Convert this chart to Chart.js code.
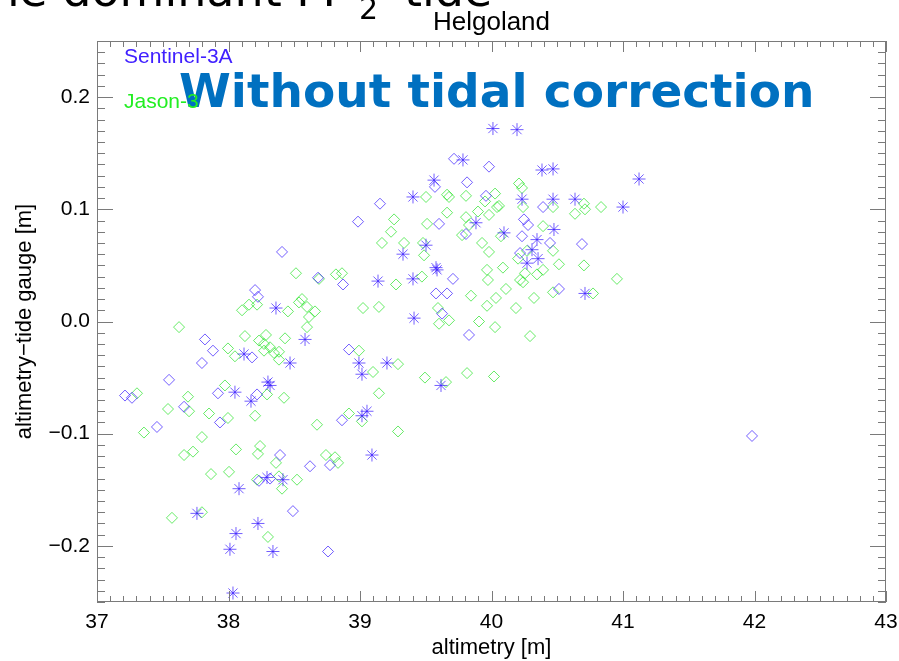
<!DOCTYPE html>
<html lang="en">
<head>
    <meta charset="UTF-8">
    <title>Helgoland</title>
    <script src="https://cdn.jsdelivr.net/npm/chart.js"></script>
    <style>
        body { margin: 0; background: #fff; }
        canvas { display: block; }
    </style>
</head>
<body>
    <canvas id="chart" width="899" height="661"></canvas>
    <script>
        // tick labels
        var xTicks = [37, 38, 39, 40, 41, 42, 43];
        var yTicks = [-0.2, -0.1, 0.0, 0.1, 0.2];

        // Sentinel-3A, diamonds
        var s3aX = [38.407, 38.681, 38.871, 38.202, 38.224, 37.821, 37.882, 37.798, 38.179, 38.916,
                    37.548, 37.920, 38.217, 37.213, 37.266, 37.662, 37.935, 38.863, 37.456, 38.392,
                    38.620, 38.772, 38.232, 38.316, 38.490, 38.757, 39.715, 39.981, 39.570, 39.814,
                    39.958, 39.152, 38.985, 39.601, 39.806, 40.392, 40.247, 40.278, 40.232, 40.445,
                    40.688, 40.217, 39.707, 39.578, 39.662, 39.624, 39.829, 40.513, 41.981];
        var s3aY = [0.062, 0.039, 0.033, 0.028, 0.022, -0.016, -0.026, -0.037, -0.032, -0.025,
                    -0.052, -0.064, -0.065, -0.066, -0.068, -0.076, -0.090, -0.088, -0.094, -0.119,
                    -0.129, -0.128, -0.142, -0.140, -0.169, -0.205, 0.145, 0.138, 0.120, 0.124,
                    0.112, 0.105, 0.089, 0.087, 0.078, 0.102, 0.091, 0.086, 0.076, 0.070,
                    0.069, 0.061, 0.038, 0.025, 0.025, 0.007, -0.012, 0.029, -0.102];

        // Sentinel-3A, stars
        var s3aStarX = [38.361, 38.582, 38.118, 38.468, 38.300, 38.316, 38.049, 38.171, 38.293, 38.414,
                        38.080, 37.760, 38.224, 38.057, 38.011, 38.338, 38.034, 40.011, 40.194, 39.783,
                        39.563, 39.403, 39.882, 39.327, 39.502, 39.578, 40.384, 40.468, 41.122, 40.232,
                        40.468, 40.635, 41.000, 40.475, 40.095, 40.346, 40.308, 40.354, 40.270, 39.137,
                        39.403, 39.586, 39.411, 38.992, 39.015, 39.205, 39.616, 39.053, 39.015, 39.091,
                        40.711];
        var s3aStarY = [0.012, -0.016, -0.029, -0.037, -0.054, -0.057, -0.063, -0.071, -0.139, -0.141,
                        -0.149, -0.171, -0.180, -0.189, -0.203, -0.205, -0.242, 0.172, 0.171, 0.144,
                        0.126, 0.111, 0.088, 0.060, 0.068, 0.048, 0.135, 0.136, 0.127, 0.109,
                        0.109, 0.109, 0.102, 0.082, 0.079, 0.073, 0.064, 0.056, 0.052, 0.036,
                        0.038, 0.046, 0.003, -0.037, -0.047, -0.037, -0.057, -0.080, -0.084, -0.119,
                        0.025];

        // Jason-3, diamonds
        var j3X = [38.513, 38.817, 38.863, 38.688, 38.103, 38.156, 38.217, 38.452, 38.536, 38.559,
                   38.597, 38.658, 38.612, 38.597, 37.624, 38.125, 38.285, 38.232, 38.270, 38.316,
                   38.270, 38.346, 38.384, 38.384, 38.430, 37.996, 38.049, 37.973, 38.293, 38.422,
                   37.304, 37.692, 37.540, 37.700, 37.852, 37.996, 38.202, 38.673, 38.916, 37.357,
                   37.798, 37.662, 37.730, 38.057, 38.240, 38.224, 38.361, 38.741, 38.810, 38.833,
                   37.867, 38.004, 38.217, 38.384, 38.407, 38.521, 37.570, 37.798, 38.300, 39.502,
                   39.662, 39.677, 39.806, 40.027, 39.951, 39.259, 39.236, 39.510, 39.662, 39.806,
                   39.897, 39.829, 39.981, 40.042, 39.776, 39.167, 39.335, 39.479, 39.487, 39.928,
                   39.981, 39.966, 40.209, 40.232, 40.240, 40.057, 40.468, 40.703, 40.711, 40.635,
                   40.833, 40.392, 40.072, 40.468, 40.270, 40.202, 40.513, 40.703, 40.087, 39.274,
                   39.471, 39.973, 39.844, 40.034, 39.966, 39.023, 39.144, 39.593, 39.601, 39.677,
                   39.905, 40.027, 38.992, 39.289, 39.099, 39.494, 39.654, 39.814, 40.019, 39.144,
                   39.015, 39.289, 40.217, 40.255, 40.346, 40.392, 40.240, 40.954, 40.110, 40.323,
                   40.468, 40.772, 40.186, 40.293];
        var j3Y = [0.043, 0.042, 0.043, 0.038, 0.010, 0.015, 0.015, 0.009, 0.017, 0.020,
                   0.013, 0.009, 0.004, -0.005, -0.005, -0.013, -0.012, -0.017, -0.020, -0.023,
                   -0.026, -0.028, -0.027, -0.034, -0.015, -0.024, -0.031, -0.057, -0.065, -0.068,
                   -0.064, -0.067, -0.078, -0.080, -0.082, -0.086, -0.084, -0.092, -0.082, -0.099,
                   -0.103, -0.119, -0.116, -0.114, -0.111, -0.118, -0.126, -0.119, -0.121, -0.126,
                   -0.136, -0.134, -0.141, -0.138, -0.149, -0.141, -0.175, -0.170, -0.192, 0.111,
                   0.113, 0.111, 0.112, 0.114, 0.107, 0.091, 0.080, 0.087, 0.097, 0.093,
                   0.098, 0.086, 0.095, 0.102, 0.077, 0.070, 0.070, 0.070, 0.059, 0.070,
                   0.062, 0.046, 0.123, 0.119, 0.102, 0.103, 0.102, 0.105, 0.100, 0.096,
                   0.102, 0.085, 0.076, 0.063, 0.063, 0.056, 0.051, 0.050, 0.048, 0.033,
                   0.040, 0.037, 0.023, 0.021, 0.014, 0.012, 0.013, 0.012, -0.002, 0.001,
                   0.000, -0.005, -0.026, -0.038, -0.045, -0.050, -0.054, -0.046, -0.049, -0.064,
                   -0.089, -0.098, 0.037, 0.043, 0.042, 0.046, 0.035, 0.038, 0.029, 0.021,
                   0.026, 0.025, 0.012, -0.013];

        var BLUE = 'rgba(55, 25, 255, 0.7)';
        var GREEN = 'rgba(20, 225, 20, 0.65)';
        var FONT = 'Liberation Sans';

        function pts(xs, ys) {
            return xs.map(function (x, i) { return { x: x, y: ys[i] }; });
        }
        function fmt(v) {
            var s = Math.abs(v) < 1 ? v.toFixed(1) : String(v);
            return s.replace('-', '\u2212');
        }

        // IDL style box: frame plus inward ticks on all four sides, and the texts on top
        var frame = {
            id: 'frame',
            afterDatasetsDraw: function (chart) {
                var ctx = chart.ctx, a = chart.chartArea;
                var sx = chart.scales.x, sy = chart.scales.y;
                ctx.save();
                ctx.strokeStyle = '#7a7a7a';
                ctx.lineWidth = 1;
                ctx.strokeRect(a.left + 0.5, a.top + 0.5, a.right - a.left - 1, a.bottom - a.top - 1);
                ctx.beginPath();
                for (var k = 0; k <= 60; k++) {
                    var px = Math.round(sx.getPixelForValue(37 + k / 10)) + 0.5;
                    var len = k % 10 === 0 ? 11 : 6;
                    ctx.moveTo(px, a.bottom); ctx.lineTo(px, a.bottom - len);
                    ctx.moveTo(px, a.top); ctx.lineTo(px, a.top + len);
                }
                for (var j = -25; j <= 25; j++) {
                    var py = Math.round(sy.getPixelForValue(j / 100)) + 0.5;
                    var ln = j % 10 === 0 ? 16 : 8;
                    ctx.moveTo(a.left, py); ctx.lineTo(a.left + ln, py);
                    ctx.moveTo(a.right, py); ctx.lineTo(a.right - ln, py);
                }
                ctx.stroke();
                ctx.restore();
            },
            afterDraw: function (chart) {
                var ctx = chart.ctx, a = chart.chartArea;
                ctx.save();
                ctx.textBaseline = 'alphabetic';
                // plot title, centred over the plot box
                ctx.fillStyle = '#000';
                ctx.font = '26px "' + FONT + '"';
                ctx.textAlign = 'center';
                ctx.fillText('Helgoland', (a.left + a.right) / 2, 30);
                ctx.textAlign = 'left';
                // slide overlay
                ctx.fillStyle = '#0070c0';
                ctx.font = 'bold 47px "DejaVu Sans"';
                ctx.fillText('Without tidal correction', 179, 107);
                ctx.fillStyle = '#000';
                ctx.font = '46px "DejaVu Sans"';
                ctx.textAlign = 'right';
                ctx.fillText('the dominant M', 336, 6);
                ctx.textAlign = 'left';
                ctx.font = '30px "DejaVu Sans"';
                ctx.fillText('2', 359, 19);
                ctx.font = '46px "DejaVu Sans"';
                ctx.fillText('tide', 404, 6);
                // legend text
                ctx.font = '21px "' + FONT + '"';
                ctx.fillStyle = '#4020ff';
                ctx.fillText('Sentinel-3A', 124, 63);
                ctx.fillStyle = '#22ee22';
                ctx.fillText('Jason-3', 124, 108);
                ctx.restore();
            }
        };

        var ctx = document.getElementById('chart').getContext('2d');
        new Chart(ctx, {
            type: 'scatter',
            data: {
                datasets: [{
                    label: 'Sentinel-3A',
                    data: pts(s3aX, s3aY),
                    pointStyle: 'rectRot',
                    pointRadius: 5.5,
                    borderColor: BLUE,
                    backgroundColor: 'rgba(0,0,0,0)',
                    borderWidth: 1
                }, {
                    label: 'Sentinel-3A',
                    data: pts(s3aStarX, s3aStarY),
                    pointStyle: 'star',
                    pointRadius: 6.5,
                    borderColor: BLUE,
                    backgroundColor: 'rgba(0,0,0,0)',
                    borderWidth: 1
                }, {
                    label: 'Jason-3',
                    data: pts(j3X, j3Y),
                    pointStyle: 'rectRot',
                    pointRadius: 5.5,
                    borderColor: GREEN,
                    backgroundColor: 'rgba(0,0,0,0)',
                    borderWidth: 1
                }]
            },
            options: {
                responsive: false,
                animation: false,
                events: [],
                layout: { padding: { top: 41, right: 13 } },
                plugins: {
                    legend: { display: false },
                    tooltip: { enabled: false },
                    title: { display: false }
                },
                scales: {
                    x: {
                        type: 'linear',
                        min: 37,
                        max: 43,
                        afterBuildTicks: function (s) { s.ticks = xTicks.map(function (v) { return { value: v }; }); },
                        afterFit: function (s) { s.height = 59; s.paddingLeft = 0; s.paddingRight = 0; },
                        grid: { display: false, drawTicks: false },
                        border: { display: false },
                        ticks: {
                            padding: 8, color: '#000', autoSkip: false, maxRotation: 0,
                            font: { family: FONT, size: 21 },
                            callback: function (v) { return fmt(v); }
                        },
                        title: {
                            display: true, text: 'altimetry [m]', color: '#000',
                            font: { family: FONT, size: 22, lineHeight: 1 },
                            padding: { top: 0, bottom: 2 }
                        }
                    },
                    y: {
                        type: 'linear',
                        min: -0.25,
                        max: 0.25,
                        afterBuildTicks: function (s) { s.ticks = yTicks.map(function (v) { return { value: v }; }); },
                        afterFit: function (s) { s.width = 97; s.paddingTop = 0; s.paddingBottom = 0; },
                        grid: { display: false, drawTicks: false },
                        border: { display: false },
                        ticks: {
                            padding: 7, color: '#000', autoSkip: false,
                            font: { family: FONT, size: 21 },
                            callback: function (v) { return fmt(v); }
                        },
                        title: {
                            display: true, text: 'altimetry\u2212tide gauge [m]', color: '#000',
                            font: { family: FONT, size: 22, lineHeight: 1 },
                            padding: { top: 14, bottom: 0 }
                        }
                    }
                }
            },
            plugins: [frame]
        });
    </script>
</body>
</html>
